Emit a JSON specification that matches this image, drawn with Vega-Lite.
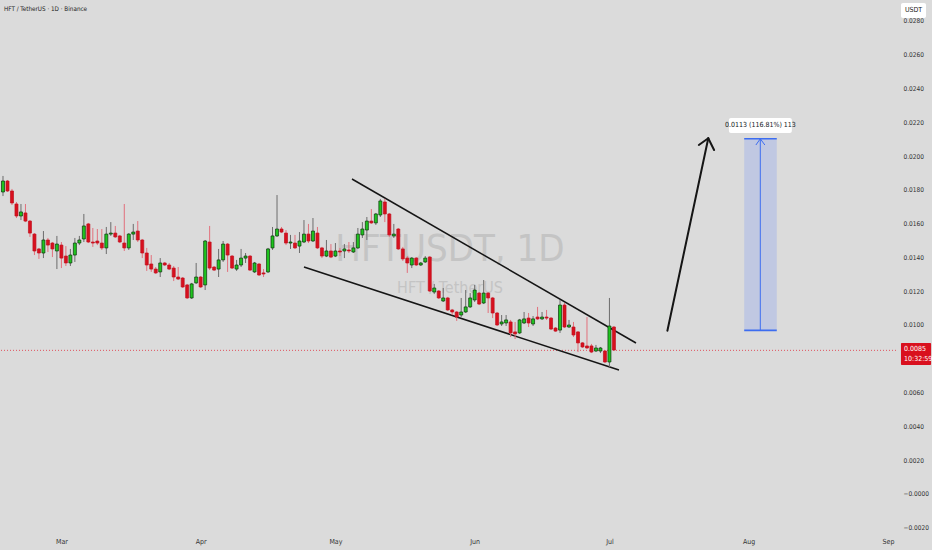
{
  "$schema": "https://vega.github.io/schema/vega-lite/v6.json",
  "width": 896,
  "height": 528,
  "autosize": {"type": "none"},
  "padding": {"left": 0, "top": 0, "right": 36, "bottom": 22},
  "background": "#dbdbdb",
  "config": {
    "view": {"stroke": null},
    "font": "Liberation Sans Narrow, DejaVu Sans Condensed, Liberation Sans, sans-serif"
  },
  "resolve": {"axis": {"x": "independent", "y": "independent"}},
  "datasets": {
    "candles": [
      {"d":"2025-02-16","o":0.01787,"h":0.01882,"l":0.01763,"c":0.01852},
      {"d":"2025-02-17","o":0.01852,"h":0.01858,"l":0.01787,"c":0.01793},
      {"d":"2025-02-18","o":0.01793,"h":0.01805,"l":0.01710,"c":0.01722},
      {"d":"2025-02-19","o":0.01716,"h":0.01728,"l":0.01633,"c":0.01645},
      {"d":"2025-02-20","o":0.01645,"h":0.01716,"l":0.01621,"c":0.01669},
      {"d":"2025-02-21","o":0.01663,"h":0.01716,"l":0.01609,"c":0.01615},
      {"d":"2025-02-22","o":0.01615,"h":0.01621,"l":0.01521,"c":0.01544},
      {"d":"2025-02-23","o":0.01538,"h":0.01544,"l":0.01414,"c":0.01438},
      {"d":"2025-02-24","o":0.01450,"h":0.01456,"l":0.01391,"c":0.01426},
      {"d":"2025-02-25","o":0.01426,"h":0.01556,"l":0.01396,"c":0.01503},
      {"d":"2025-02-26","o":0.01503,"h":0.01515,"l":0.01432,"c":0.01473},
      {"d":"2025-02-27","o":0.01485,"h":0.01491,"l":0.01402,"c":0.01450},
      {"d":"2025-02-28","o":0.01438,"h":0.01527,"l":0.01331,"c":0.01479},
      {"d":"2025-03-01","o":0.01473,"h":0.01491,"l":0.01337,"c":0.01396},
      {"d":"2025-03-02","o":0.01408,"h":0.01467,"l":0.01349,"c":0.01367},
      {"d":"2025-03-03","o":0.01367,"h":0.01450,"l":0.01349,"c":0.01414},
      {"d":"2025-03-04","o":0.01414,"h":0.01515,"l":0.01373,"c":0.01485},
      {"d":"2025-03-05","o":0.01485,"h":0.01527,"l":0.01473,"c":0.01503},
      {"d":"2025-03-06","o":0.01509,"h":0.01657,"l":0.01491,"c":0.01586},
      {"d":"2025-03-07","o":0.01598,"h":0.01604,"l":0.01485,"c":0.01491},
      {"d":"2025-03-08","o":0.01491,"h":0.01574,"l":0.01462,"c":0.01485},
      {"d":"2025-03-09","o":0.01497,"h":0.01568,"l":0.01473,"c":0.01485},
      {"d":"2025-03-10","o":0.01485,"h":0.01568,"l":0.01444,"c":0.01456},
      {"d":"2025-03-11","o":0.01456,"h":0.01580,"l":0.01420,"c":0.01538},
      {"d":"2025-03-12","o":0.01538,"h":0.01609,"l":0.01527,"c":0.01544},
      {"d":"2025-03-13","o":0.01544,"h":0.01586,"l":0.01515,"c":0.01521},
      {"d":"2025-03-14","o":0.01527,"h":0.01533,"l":0.01485,"c":0.01491},
      {"d":"2025-03-15","o":0.01485,"h":0.01716,"l":0.01438,"c":0.01456},
      {"d":"2025-03-16","o":0.01456,"h":0.01544,"l":0.01444,"c":0.01538},
      {"d":"2025-03-17","o":0.01538,"h":0.01598,"l":0.01503,"c":0.01550},
      {"d":"2025-03-18","o":0.01556,"h":0.01615,"l":0.01491,"c":0.01503},
      {"d":"2025-03-19","o":0.01503,"h":0.01509,"l":0.01396,"c":0.01426},
      {"d":"2025-03-20","o":0.01426,"h":0.01456,"l":0.01320,"c":0.01355},
      {"d":"2025-03-21","o":0.01361,"h":0.01414,"l":0.01314,"c":0.01331},
      {"d":"2025-03-22","o":0.01331,"h":0.01343,"l":0.01302,"c":0.01308},
      {"d":"2025-03-23","o":0.01314,"h":0.01396,"l":0.01284,"c":0.01367},
      {"d":"2025-03-24","o":0.01367,"h":0.01373,"l":0.01349,"c":0.01355},
      {"d":"2025-03-25","o":0.01355,"h":0.01367,"l":0.01325,"c":0.01331},
      {"d":"2025-03-26","o":0.01337,"h":0.01349,"l":0.01260,"c":0.01284},
      {"d":"2025-03-27","o":0.01284,"h":0.01343,"l":0.01266,"c":0.01272},
      {"d":"2025-03-28","o":0.01278,"h":0.01284,"l":0.01219,"c":0.01225},
      {"d":"2025-03-29","o":0.01237,"h":0.01243,"l":0.01154,"c":0.01160},
      {"d":"2025-03-30","o":0.01160,"h":0.01249,"l":0.01154,"c":0.01243},
      {"d":"2025-03-31","o":0.01249,"h":0.01367,"l":0.01243,"c":0.01284},
      {"d":"2025-04-01","o":0.01284,"h":0.01290,"l":0.01219,"c":0.01225},
      {"d":"2025-04-02","o":0.01237,"h":0.01503,"l":0.01207,"c":0.01497},
      {"d":"2025-04-03","o":0.01491,"h":0.01586,"l":0.01325,"c":0.01337},
      {"d":"2025-04-04","o":0.01343,"h":0.01349,"l":0.01320,"c":0.01325},
      {"d":"2025-04-05","o":0.01331,"h":0.01450,"l":0.01284,"c":0.01385},
      {"d":"2025-04-06","o":0.01385,"h":0.01497,"l":0.01373,"c":0.01479},
      {"d":"2025-04-07","o":0.01479,"h":0.01485,"l":0.01314,"c":0.01414},
      {"d":"2025-04-08","o":0.01408,"h":0.01414,"l":0.01331,"c":0.01337},
      {"d":"2025-04-09","o":0.01331,"h":0.01385,"l":0.01320,"c":0.01355},
      {"d":"2025-04-10","o":0.01355,"h":0.01450,"l":0.01343,"c":0.01396},
      {"d":"2025-04-11","o":0.01396,"h":0.01426,"l":0.01367,"c":0.01408},
      {"d":"2025-04-12","o":0.01408,"h":0.01414,"l":0.01320,"c":0.01325},
      {"d":"2025-04-13","o":0.01314,"h":0.01373,"l":0.01308,"c":0.01367},
      {"d":"2025-04-14","o":0.01361,"h":0.01367,"l":0.01290,"c":0.01296},
      {"d":"2025-04-15","o":0.01308,"h":0.01331,"l":0.01284,"c":0.01302},
      {"d":"2025-04-16","o":0.01314,"h":0.01456,"l":0.01308,"c":0.01450},
      {"d":"2025-04-17","o":0.01456,"h":0.01580,"l":0.01444,"c":0.01527},
      {"d":"2025-04-18","o":0.01527,"h":0.01769,"l":0.01521,"c":0.01568},
      {"d":"2025-04-19","o":0.01568,"h":0.01580,"l":0.01544,"c":0.01550},
      {"d":"2025-04-20","o":0.01544,"h":0.01562,"l":0.01473,"c":0.01485},
      {"d":"2025-04-21","o":0.01485,"h":0.01533,"l":0.01450,"c":0.01491},
      {"d":"2025-04-22","o":0.01485,"h":0.01533,"l":0.01450,"c":0.01456},
      {"d":"2025-04-23","o":0.01467,"h":0.01550,"l":0.01426,"c":0.01497},
      {"d":"2025-04-24","o":0.01491,"h":0.01621,"l":0.01485,"c":0.01538},
      {"d":"2025-04-25","o":0.01538,"h":0.01598,"l":0.01485,"c":0.01497},
      {"d":"2025-04-26","o":0.01497,"h":0.01633,"l":0.01491,"c":0.01556},
      {"d":"2025-04-27","o":0.01544,"h":0.01580,"l":0.01450,"c":0.01456},
      {"d":"2025-04-28","o":0.01456,"h":0.01462,"l":0.01396,"c":0.01408},
      {"d":"2025-04-29","o":0.01408,"h":0.01503,"l":0.01402,"c":0.01438},
      {"d":"2025-04-30","o":0.01438,"h":0.01479,"l":0.01396,"c":0.01402},
      {"d":"2025-05-01","o":0.01408,"h":0.01485,"l":0.01402,"c":0.01438},
      {"d":"2025-05-02","o":0.01438,"h":0.01456,"l":0.01408,"c":0.01432},
      {"d":"2025-05-03","o":0.01438,"h":0.01479,"l":0.01396,"c":0.01450},
      {"d":"2025-05-04","o":0.01444,"h":0.01491,"l":0.01426,"c":0.01438},
      {"d":"2025-05-05","o":0.01432,"h":0.01491,"l":0.01426,"c":0.01456},
      {"d":"2025-05-06","o":0.01456,"h":0.01574,"l":0.01450,"c":0.01538},
      {"d":"2025-05-07","o":0.01533,"h":0.01609,"l":0.01515,"c":0.01568},
      {"d":"2025-05-08","o":0.01562,"h":0.01639,"l":0.01503,"c":0.01615},
      {"d":"2025-05-09","o":0.01615,"h":0.01686,"l":0.01598,"c":0.01604},
      {"d":"2025-05-10","o":0.01604,"h":0.01663,"l":0.01592,"c":0.01657},
      {"d":"2025-05-11","o":0.01651,"h":0.01746,"l":0.01639,"c":0.01734},
      {"d":"2025-05-12","o":0.01728,"h":0.01746,"l":0.01609,"c":0.01657},
      {"d":"2025-05-13","o":0.01657,"h":0.01663,"l":0.01521,"c":0.01533},
      {"d":"2025-05-14","o":0.01527,"h":0.01598,"l":0.01515,"c":0.01538},
      {"d":"2025-05-15","o":0.01568,"h":0.01574,"l":0.01444,"c":0.01450},
      {"d":"2025-05-16","o":0.01450,"h":0.01462,"l":0.01379,"c":0.01391},
      {"d":"2025-05-17","o":0.01396,"h":0.01408,"l":0.01308,"c":0.01367},
      {"d":"2025-05-18","o":0.01355,"h":0.01402,"l":0.01337,"c":0.01396},
      {"d":"2025-05-19","o":0.01396,"h":0.01402,"l":0.01349,"c":0.01355},
      {"d":"2025-05-20","o":0.01355,"h":0.01373,"l":0.01349,"c":0.01367},
      {"d":"2025-05-21","o":0.01373,"h":0.01408,"l":0.01367,"c":0.01396},
      {"d":"2025-05-22","o":0.01402,"h":0.01408,"l":0.01195,"c":0.01201},
      {"d":"2025-05-23","o":0.01195,"h":0.01243,"l":0.01183,"c":0.01219},
      {"d":"2025-05-24","o":0.01201,"h":0.01207,"l":0.01154,"c":0.01160},
      {"d":"2025-05-25","o":0.01142,"h":0.01219,"l":0.01136,"c":0.01160},
      {"d":"2025-05-26","o":0.01160,"h":0.01166,"l":0.01083,"c":0.01089},
      {"d":"2025-05-27","o":0.01089,"h":0.01095,"l":0.01059,"c":0.01077},
      {"d":"2025-05-28","o":0.01077,"h":0.01083,"l":0.01024,"c":0.01047},
      {"d":"2025-05-29","o":0.01059,"h":0.01160,"l":0.01047,"c":0.01077},
      {"d":"2025-05-30","o":0.01077,"h":0.01207,"l":0.01071,"c":0.01107},
      {"d":"2025-05-31","o":0.01107,"h":0.01189,"l":0.01101,"c":0.01160},
      {"d":"2025-06-01","o":0.01148,"h":0.01237,"l":0.01136,"c":0.01207},
      {"d":"2025-06-02","o":0.01189,"h":0.01195,"l":0.01118,"c":0.01124},
      {"d":"2025-06-03","o":0.01130,"h":0.01266,"l":0.01124,"c":0.01189},
      {"d":"2025-06-04","o":0.01189,"h":0.01195,"l":0.01071,"c":0.01160},
      {"d":"2025-06-05","o":0.01160,"h":0.01166,"l":0.01041,"c":0.01071},
      {"d":"2025-06-06","o":0.01071,"h":0.01077,"l":0.00994,"c":0.01000},
      {"d":"2025-06-07","o":0.01006,"h":0.01059,"l":0.00994,"c":0.01018},
      {"d":"2025-06-08","o":0.01012,"h":0.01059,"l":0.00994,"c":0.01030},
      {"d":"2025-06-09","o":0.01018,"h":0.01030,"l":0.00929,"c":0.00953},
      {"d":"2025-06-10","o":0.00959,"h":0.01018,"l":0.00917,"c":0.00947},
      {"d":"2025-06-11","o":0.00953,"h":0.01036,"l":0.00947,"c":0.01030},
      {"d":"2025-06-12","o":0.01012,"h":0.01077,"l":0.01006,"c":0.01036},
      {"d":"2025-06-13","o":0.01041,"h":0.01071,"l":0.00988,"c":0.01012},
      {"d":"2025-06-14","o":0.01006,"h":0.01053,"l":0.00994,"c":0.01036},
      {"d":"2025-06-15","o":0.01047,"h":0.01107,"l":0.01030,"c":0.01036},
      {"d":"2025-06-16","o":0.01036,"h":0.01077,"l":0.01030,"c":0.01047},
      {"d":"2025-06-17","o":0.01047,"h":0.01089,"l":0.01030,"c":0.01041},
      {"d":"2025-06-18","o":0.01041,"h":0.01047,"l":0.00970,"c":0.00976},
      {"d":"2025-06-19","o":0.00982,"h":0.00988,"l":0.00959,"c":0.00964},
      {"d":"2025-06-20","o":0.00970,"h":0.01148,"l":0.00953,"c":0.01118},
      {"d":"2025-06-21","o":0.01118,"h":0.01130,"l":0.00982,"c":0.00988},
      {"d":"2025-06-22","o":0.00988,"h":0.01030,"l":0.00982,"c":0.01000},
      {"d":"2025-06-23","o":0.00988,"h":0.01018,"l":0.00929,"c":0.00941},
      {"d":"2025-06-24","o":0.00959,"h":0.00964,"l":0.00840,"c":0.00894},
      {"d":"2025-06-25","o":0.00894,"h":0.00899,"l":0.00864,"c":0.00870},
      {"d":"2025-06-26","o":0.00876,"h":0.01047,"l":0.00858,"c":0.00864},
      {"d":"2025-06-27","o":0.00876,"h":0.00888,"l":0.00834,"c":0.00840},
      {"d":"2025-06-28","o":0.00846,"h":0.00882,"l":0.00840,"c":0.00864},
      {"d":"2025-06-29","o":0.00846,"h":0.00870,"l":0.00834,"c":0.00864},
      {"d":"2025-06-30","o":0.00846,"h":0.00852,"l":0.00775,"c":0.00781},
      {"d":"2025-07-01","o":0.00781,"h":0.01160,"l":0.00751,"c":0.00994},
      {"d":"2025-07-02","o":0.00988,"h":0.00994,"l":0.00846,"c":0.00852}
    ],
    "last": [{"p": 0.0085}],
    "trend": [
      {"t1":"2025-05-04T16:30:00Z","p1":0.018639,"t2":"2025-07-06T22:00:00Z","p2":0.008935},
      {"t1":"2025-04-24T00:00:00Z","p1":0.013432,"t2":"2025-07-03T03:00:00Z","p2":0.007337}
    ],
    "arrow": [
      {"t1":"2025-07-13T21:36:00Z","p1":0.009663,"t2":"2025-07-23T00:00:00Z","p2":0.021047},
      {"t1":"2025-07-20T21:36:00Z","p1":0.020651,"t2":"2025-07-23T00:00:00Z","p2":0.021047},
      {"t1":"2025-07-24T07:12:00Z","p1":0.020355,"t2":"2025-07-23T00:00:00Z","p2":0.021047}
    ],
    "measureBox": [
      {"t1":"2025-07-31T00:00:00Z","t2":"2025-08-07T06:00:00Z","p1":0.00968,"p2":0.02102}
    ],
    "measureEdges": [
      {"t1":"2025-07-31T00:00:00Z","t2":"2025-08-07T06:00:00Z","p1":0.02102,"p2":0.02102},
      {"t1":"2025-07-31T00:00:00Z","t2":"2025-08-07T06:00:00Z","p1":0.00968,"p2":0.00968}
    ],
    "measureArrow": [
      {"t1":"2025-08-03T14:00:00Z","p1":0.00968,"t2":"2025-08-03T14:00:00Z","p2":0.02102},
      {"t1":"2025-08-02T14:24:00Z","p1":0.02065,"t2":"2025-08-03T14:00:00Z","p2":0.02102},
      {"t1":"2025-08-04T14:24:00Z","p1":0.02065,"t2":"2025-08-03T14:00:00Z","p2":0.02102}
    ],
    "labelBox": [
      {"t1":"2025-07-27T14:24:00Z","t2":"2025-08-10T14:24:00Z","p1":0.021361,"p2":0.022249}
    ],
    "labelText": [
      {"t":"2025-08-03T14:24:00Z","p":0.021805,"label":"0.0113 (116.81%) 113"}
    ],
    "wmBig": [{"t":"2025-05-26T12:00:00Z","p":0.014438,"label":"HFTUSDT, 1D"}],
    "wmSmall": [{"t":"2025-05-26T12:00:00Z","p":0.012189,"label":"HFT / TetherUS"}],
    "header": [{"t":"2025-02-16T05:20:00Z","p":0.028698,"label":"HFT / TetherUS · 1D · Binance"}],
    "usdtBox": [{"t1":"2025-09-03T21:36:00Z","t2":"2025-09-09T11:30:00Z","p1":0.028166,"p2":0.029053}],
    "usdtText": [{"t":"2025-09-06T16:48:00Z","p":0.02861,"label":"USDT"}],
    "priceBox": [{"t1":"2025-09-03T21:36:00Z","t2":"2025-09-10T14:24:00Z","p1":0.007633,"p2":0.008935}],
    "priceText": [
      {"t":"2025-09-04T14:00:00Z","p":0.00858,"label":"0.0085"},
      {"t":"2025-09-04T14:00:00Z","p":0.007988,"label":"10:32:59"}
    ]
  },
  "layer": [
    {
      "data": {"name": "wmBig"},
      "mark": {"type": "text", "fontSize": 38, "color": "#c4c4c4", "align": "center", "baseline": "middle"},
      "encoding": {
        "x": {"field": "t", "type": "temporal", "scale": {"type": "utc", "padding": 0, "domain": [{"year":2025,"month":2,"date":15,"hours":8,"utc":true},{"year":2025,"month":9,"date":2,"hours":19,"utc":true}]},
          "axis": {"title": null, "values": [{"year":2025,"month":3,"date":1,"utc":true},{"year":2025,"month":4,"date":1,"utc":true},{"year":2025,"month":5,"date":1,"utc":true},{"year":2025,"month":6,"date":1,"utc":true},{"year":2025,"month":7,"date":1,"utc":true},{"year":2025,"month":8,"date":1,"utc":true},{"year":2025,"month":9,"date":1,"utc":true}], "labelExpr": "utcFormat(datum.value, '%b')", "labelOverlap": false, "labelFlush": false, "domain": false, "ticks": false, "grid": false, "labelFontSize": 7, "labelColor": "#333333", "labelPadding": 9}},
        "y": {"field": "p", "type": "quantitative", "scale": {"domain": [-0.002012, 0.029231], "nice": false, "zero": false, "padding": 0},
          "axis": {"orient": "right", "title": null, "values": [-0.002, 0, 0.002, 0.004, 0.006, 0.01, 0.012, 0.014, 0.016, 0.018, 0.02, 0.022, 0.024, 0.026, 0.028], "labelExpr": "datum.value == 0 ? '−0.0000' : format(datum.value, '.4f')", "labelOverlap": false, "domain": false, "ticks": false, "grid": false, "labelFontSize": 6.5, "labelColor": "#333333", "labelPadding": 7, "labelBaseline": "middle"}},
        "text": {"field": "label"}
      }
    },
    {
      "data": {"name": "wmSmall"},
      "mark": {"type": "text", "fontSize": 16, "color": "#c4c4c4", "align": "center", "baseline": "middle"},
      "encoding": {
        "x": {"field": "t", "type": "temporal", "axis": null},
        "y": {"field": "p", "type": "quantitative", "axis": null},
        "text": {"field": "label"}
      }
    },
    {
      "data": {"name": "last"},
      "mark": {"type": "rule", "color": "#e0525e", "strokeWidth": 1, "strokeDash": [1, 2]},
      "encoding": {"y": {"field": "p", "type": "quantitative", "axis": null}}
    },
    {
      "data": {"name": "measureBox"},
      "mark": {"type": "rect", "fill": "#c0c8e2"},
      "encoding": {
        "x": {"field": "t1", "type": "temporal", "axis": null}, "x2": {"field": "t2"},
        "y": {"field": "p1", "type": "quantitative", "axis": null}, "y2": {"field": "p2"}
      }
    },
    {
      "data": {"name": "measureEdges"},
      "mark": {"type": "rule", "color": "#3d6df0", "strokeWidth": 1.6},
      "encoding": {
        "x": {"field": "t1", "type": "temporal", "axis": null}, "x2": {"field": "t2"},
        "y": {"field": "p1", "type": "quantitative", "axis": null}, "y2": {"field": "p2"}
      }
    },
    {
      "data": {"name": "measureArrow"},
      "mark": {"type": "rule", "color": "#3d6df0", "strokeWidth": 1},
      "encoding": {
        "x": {"field": "t1", "type": "temporal", "axis": null}, "x2": {"field": "t2"},
        "y": {"field": "p1", "type": "quantitative", "axis": null}, "y2": {"field": "p2"}
      }
    },
    {
      "data": {"name": "trend"},
      "mark": {"type": "rule", "color": "#151515", "strokeWidth": 1.5},
      "encoding": {
        "x": {"field": "t1", "type": "temporal", "axis": null}, "x2": {"field": "t2"},
        "y": {"field": "p1", "type": "quantitative", "axis": null}, "y2": {"field": "p2"}
      }
    },
    {
      "data": {"name": "arrow"},
      "mark": {"type": "rule", "color": "#151515", "strokeWidth": 2, "strokeCap": "round"},
      "encoding": {
        "x": {"field": "t1", "type": "temporal", "axis": null}, "x2": {"field": "t2"},
        "y": {"field": "p1", "type": "quantitative", "axis": null}, "y2": {"field": "p2"}
      }
    },
    {
      "data": {"name": "candles"},
      "mark": {"type": "rule", "strokeWidth": 1},
      "encoding": {
        "x": {"field": "d", "type": "temporal", "axis": null},
        "y": {"field": "l", "type": "quantitative", "axis": null},
        "y2": {"field": "h"},
        "color": {"condition": {"test": "datum.c >= datum.o", "value": "#6c6c6c"}, "value": "#e2707c"}
      }
    },
    {
      "data": {"name": "candles"},
      "mark": {"type": "bar", "width": 3, "strokeWidth": 0.7},
      "encoding": {
        "x": {"field": "d", "type": "temporal", "axis": null},
        "y": {"field": "o", "type": "quantitative", "axis": null},
        "y2": {"field": "c"},
        "fill": {"condition": {"test": "datum.c >= datum.o", "value": "#1fc41f"}, "value": "#d8101e"},
        "stroke": {"condition": {"test": "datum.c >= datum.o", "value": "#0b350b"}, "value": "#c0101e"}
      }
    },
    {
      "data": {"name": "labelBox"},
      "mark": {"type": "rect", "fill": "#ffffff", "cornerRadius": 2},
      "encoding": {
        "x": {"field": "t1", "type": "temporal", "axis": null}, "x2": {"field": "t2"},
        "y": {"field": "p1", "type": "quantitative", "axis": null}, "y2": {"field": "p2"}
      }
    },
    {
      "data": {"name": "labelText"},
      "mark": {"type": "text", "fontSize": 7, "color": "#131722", "align": "center", "baseline": "middle"},
      "encoding": {
        "x": {"field": "t", "type": "temporal", "axis": null},
        "y": {"field": "p", "type": "quantitative", "axis": null},
        "text": {"field": "label"}
      }
    },
    {
      "data": {"name": "header"},
      "mark": {"type": "text", "fontSize": 6.3, "color": "#222222", "align": "left", "baseline": "middle"},
      "encoding": {
        "x": {"field": "t", "type": "temporal", "axis": null},
        "y": {"field": "p", "type": "quantitative", "axis": null},
        "text": {"field": "label"}
      }
    },
    {
      "data": {"name": "usdtBox"},
      "mark": {"type": "rect", "fill": "#ffffff", "cornerRadius": 2},
      "encoding": {
        "x": {"field": "t1", "type": "temporal", "axis": null}, "x2": {"field": "t2"},
        "y": {"field": "p1", "type": "quantitative", "axis": null}, "y2": {"field": "p2"}
      }
    },
    {
      "data": {"name": "usdtText"},
      "mark": {"type": "text", "fontSize": 7, "color": "#222222", "align": "center", "baseline": "middle"},
      "encoding": {
        "x": {"field": "t", "type": "temporal", "axis": null},
        "y": {"field": "p", "type": "quantitative", "axis": null},
        "text": {"field": "label"}
      }
    },
    {
      "data": {"name": "priceBox"},
      "mark": {"type": "rect", "fill": "#d9101e", "cornerRadius": 1},
      "encoding": {
        "x": {"field": "t1", "type": "temporal", "axis": null}, "x2": {"field": "t2"},
        "y": {"field": "p1", "type": "quantitative", "axis": null}, "y2": {"field": "p2"}
      }
    },
    {
      "data": {"name": "priceText"},
      "mark": {"type": "text", "fontSize": 7, "color": "#ffffff", "align": "left", "baseline": "middle"},
      "encoding": {
        "x": {"field": "t", "type": "temporal", "axis": null},
        "y": {"field": "p", "type": "quantitative", "axis": null},
        "text": {"field": "label"}
      }
    }
  ]
}
